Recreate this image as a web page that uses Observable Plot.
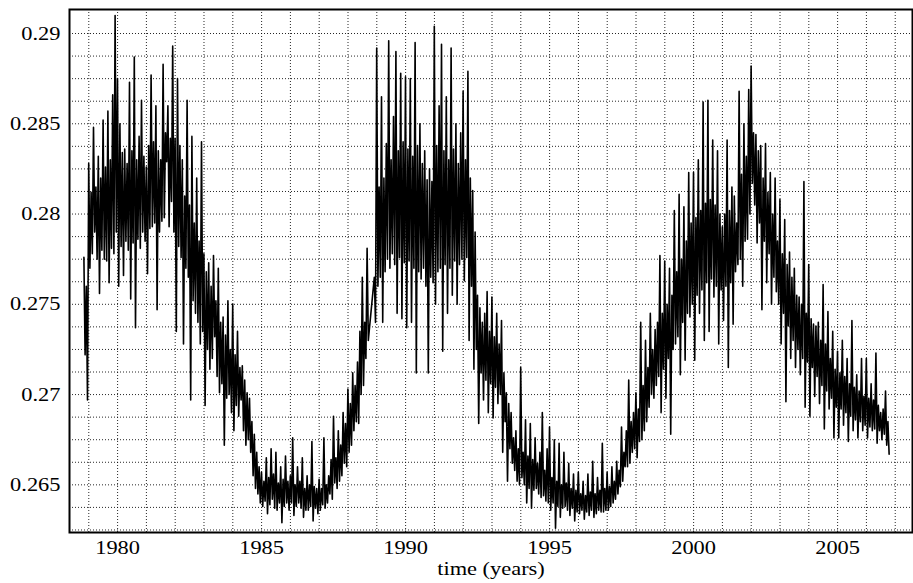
<!DOCTYPE html>
<html>
<head>
<meta charset="utf-8">
<script src="https://cdn.jsdelivr.net/npm/d3@7"></script>
<script src="https://cdn.jsdelivr.net/npm/@observablehq/plot@0.6"></script>
<style>
  html, body { margin: 0; padding: 0; background: #fff; }
  #chart svg { display: block; }
</style>
</head>
<body>
<div id="chart"></div>
<script>
// Half-monthly samples starting at 1978.83
const startYear = 1978.83;
const stepYears = 1 / 24;

const tsi1978to1984 = [
  0.2776, 0.2722, 0.2760, 0.2697,
  // 1979
  0.2828, 0.2770, 0.2812, 0.2778, 0.2848, 0.2790, 0.2815, 0.2775, 0.2832, 0.2756, 0.2820, 0.2780,
  0.2852, 0.2775, 0.2826, 0.2774, 0.2857, 0.2762, 0.2830, 0.2781, 0.2866, 0.2778, 0.2910, 0.2790,
  // 1980
  0.2875, 0.2760, 0.2850, 0.2782, 0.2834, 0.2766, 0.2836, 0.2785, 0.2828, 0.2780, 0.2873, 0.2753,
  0.2835, 0.2784, 0.2887, 0.2737, 0.2830, 0.2786, 0.2843, 0.2781, 0.2863, 0.2790, 0.2832, 0.2785,
  // 1981
  0.2826, 0.2767, 0.2838, 0.2792, 0.2877, 0.2793, 0.2840, 0.2795, 0.2860, 0.2747, 0.2835, 0.2790,
  0.2830, 0.2796, 0.2883, 0.2798, 0.2845, 0.2829, 0.2860, 0.2793, 0.2842, 0.2807, 0.2893, 0.2790,
  // 1982
  0.2842, 0.2735, 0.2875, 0.2782, 0.2838, 0.2776, 0.2830, 0.2728, 0.2810, 0.2770, 0.2863, 0.2765,
  0.2805, 0.2697, 0.2843, 0.2752, 0.2795, 0.2745, 0.2820, 0.2740, 0.2785, 0.2728, 0.2840, 0.2735,
  // 1983
  0.2778, 0.2694, 0.2768, 0.2725, 0.2773, 0.2714, 0.2760, 0.2720, 0.2777, 0.2732, 0.2752, 0.2710,
  0.2770, 0.2701, 0.2740, 0.2706, 0.2743, 0.2672, 0.2733, 0.2698, 0.2752, 0.2700, 0.2725, 0.2690,
  // 1984
  0.2750, 0.2680, 0.2722, 0.2694, 0.2735, 0.2688, 0.2715, 0.2697, 0.2716, 0.2680, 0.2708, 0.2672,
  0.2701, 0.2675, 0.2698, 0.2668, 0.2685, 0.2655, 0.2678, 0.2648, 0.2668, 0.2645, 0.2660, 0.2640
];
const tsi1985to1991 = [
  // 1985
  0.2657, 0.2638, 0.2652, 0.2641, 0.2665, 0.2634, 0.2654, 0.2639, 0.2670, 0.2642, 0.2656, 0.2637,
  0.2668, 0.2636, 0.2651, 0.2640, 0.2660, 0.2629, 0.2653, 0.2638, 0.2666, 0.2640, 0.2652, 0.2636,
  // 1986
  0.2655, 0.2640, 0.2676, 0.2633, 0.2650, 0.2638, 0.2660, 0.2640, 0.2652, 0.2637, 0.2665, 0.2632,
  0.2648, 0.2636, 0.2655, 0.2636, 0.2650, 0.2638, 0.2674, 0.2630, 0.2649, 0.2637, 0.2648, 0.2634,
  // 1987
  0.2653, 0.2636, 0.2648, 0.2639, 0.2676, 0.2637, 0.2650, 0.2640, 0.2655, 0.2645, 0.2664, 0.2642,
  0.2688, 0.2651, 0.2665, 0.2648, 0.2680, 0.2652, 0.2672, 0.2655, 0.2690, 0.2662, 0.2684, 0.2660,
  // 1988
  0.2703, 0.2668, 0.2695, 0.2672, 0.2712, 0.2680, 0.2705, 0.2685, 0.2718, 0.2684, 0.2735, 0.2700,
  0.2765, 0.2705, 0.2740, 0.2720, 0.2781, 0.2730, 0.2737, 0.2744, 0.2751, 0.2758, 0.2765, 0.2740,
  // 1989
  0.2892, 0.2760, 0.2815, 0.2765, 0.2865, 0.2740, 0.2820, 0.2768, 0.2839, 0.2775, 0.2896, 0.2770,
  0.2830, 0.2778, 0.2854, 0.2772, 0.2890, 0.2745, 0.2835, 0.2776, 0.2878, 0.2742, 0.2840, 0.2773,
  // 1990
  0.2876, 0.2737, 0.2836, 0.2774, 0.2875, 0.2740, 0.2832, 0.2770, 0.2895, 0.2712, 0.2838, 0.2768,
  0.2850, 0.2764, 0.2828, 0.2770, 0.2835, 0.2760, 0.2819, 0.2712, 0.2825, 0.2765, 0.2818, 0.2762,
  // 1991
  0.2904, 0.2750, 0.2838, 0.2768, 0.2860, 0.2770, 0.2894, 0.2724, 0.2835, 0.2772, 0.2865, 0.2745,
  0.2830, 0.2770, 0.2892, 0.2755, 0.2836, 0.2774, 0.2850, 0.2750, 0.2828, 0.2772, 0.2845, 0.2775
];
const tsi1992to1998 = [
  // 1992
  0.2868, 0.2763, 0.2830, 0.2776, 0.2879, 0.2730, 0.2820, 0.2760, 0.2813, 0.2714, 0.2790, 0.2725,
  0.2755, 0.2684, 0.2748, 0.2712, 0.2740, 0.2697, 0.2745, 0.2708, 0.2757, 0.2690, 0.2735, 0.2706,
  // 1993
  0.2754, 0.2687, 0.2732, 0.2704, 0.2745, 0.2695, 0.2728, 0.2700, 0.2741, 0.2668, 0.2712, 0.2685,
  0.2701, 0.2652, 0.2695, 0.2670, 0.2690, 0.2662, 0.2676, 0.2658, 0.2680, 0.2652, 0.2670, 0.2650,
  // 1994
  0.2715, 0.2654, 0.2668, 0.2650, 0.2686, 0.2640, 0.2666, 0.2648, 0.2684, 0.2637, 0.2664, 0.2647,
  0.2676, 0.2648, 0.2662, 0.2645, 0.2668, 0.2643, 0.2690, 0.2644, 0.2658, 0.2641, 0.2670, 0.2640,
  // 1995
  0.2682, 0.2636, 0.2654, 0.2640, 0.2675, 0.2626, 0.2652, 0.2638, 0.2673, 0.2632, 0.2650, 0.2637,
  0.2668, 0.2638, 0.2651, 0.2636, 0.2662, 0.2633, 0.2648, 0.2637, 0.2656, 0.2630, 0.2647, 0.2635,
  // 1996
  0.2657, 0.2634, 0.2645, 0.2636, 0.2652, 0.2631, 0.2644, 0.2635, 0.2656, 0.2633, 0.2646, 0.2636,
  0.2663, 0.2632, 0.2645, 0.2634, 0.2654, 0.2636, 0.2647, 0.2635, 0.2673, 0.2635, 0.2648, 0.2636,
  // 1997
  0.2657, 0.2636, 0.2649, 0.2638, 0.2660, 0.2640, 0.2652, 0.2642, 0.2663, 0.2645, 0.2658, 0.2649,
  0.2682, 0.2652, 0.2668, 0.2660, 0.2680, 0.2660, 0.2708, 0.2662, 0.2685, 0.2668, 0.2690, 0.2670,
  // 1998
  0.2701, 0.2665, 0.2692, 0.2674, 0.2740, 0.2675, 0.2705, 0.2680, 0.2730, 0.2685, 0.2715, 0.2693,
  0.2745, 0.2700, 0.2725, 0.2698, 0.2736, 0.2705, 0.2740, 0.2710, 0.2777, 0.2690, 0.2745, 0.2714
];
const tsi1999to2006 = [
  // 1999
  0.2774, 0.2698, 0.2750, 0.2720, 0.2770, 0.2678, 0.2755, 0.2725, 0.2802, 0.2728, 0.2768, 0.2732,
  0.2811, 0.2711, 0.2775, 0.2740, 0.2804, 0.2719, 0.2785, 0.2745, 0.2823, 0.2743, 0.2795, 0.2750,
  // 2000
  0.2823, 0.2719, 0.2798, 0.2755, 0.2830, 0.2745, 0.2802, 0.2758, 0.2862, 0.2730, 0.2806, 0.2762,
  0.2863, 0.2735, 0.2808, 0.2764, 0.2841, 0.2754, 0.2805, 0.2760, 0.2835, 0.2728, 0.2800, 0.2758,
  // 2001
  0.2793, 0.2741, 0.2800, 0.2760, 0.2841, 0.2715, 0.2802, 0.2762, 0.2815, 0.2739, 0.2810, 0.2768,
  0.2795, 0.2772, 0.2868, 0.2775, 0.2822, 0.2760, 0.2850, 0.2785, 0.2832, 0.2786, 0.2869, 0.2800,
  // 2002
  0.2882, 0.2817, 0.2845, 0.2805, 0.2844, 0.2784, 0.2835, 0.2795, 0.2838, 0.2747, 0.2820, 0.2785,
  0.2839, 0.2762, 0.2812, 0.2778, 0.2823, 0.2750, 0.2800, 0.2765, 0.2820, 0.2757, 0.2785, 0.2750,
  // 2003
  0.2808, 0.2728, 0.2778, 0.2745, 0.2797, 0.2696, 0.2772, 0.2738, 0.2779, 0.2720, 0.2765, 0.2730,
  0.2770, 0.2715, 0.2755, 0.2725, 0.2754, 0.2711, 0.2750, 0.2720, 0.2818, 0.2693, 0.2745, 0.2718,
  // 2004
  0.2772, 0.2688, 0.2742, 0.2715, 0.2739, 0.2699, 0.2738, 0.2710, 0.2740, 0.2695, 0.2730, 0.2705,
  0.2761, 0.2681, 0.2728, 0.2702, 0.2746, 0.2692, 0.2720, 0.2698, 0.2735, 0.2676, 0.2714, 0.2693,
  // 2005
  0.2724, 0.2676, 0.2712, 0.2692, 0.2730, 0.2683, 0.2710, 0.2690, 0.2720, 0.2674, 0.2706, 0.2688,
  0.2741, 0.2680, 0.2704, 0.2686, 0.2711, 0.2676, 0.2702, 0.2685, 0.2720, 0.2680, 0.2699, 0.2683,
  // 2006
  0.2720, 0.2676, 0.2698, 0.2682, 0.2706, 0.2680, 0.2697, 0.2681, 0.2723, 0.2673, 0.2694, 0.2680,
  0.2690, 0.2675, 0.2692, 0.2678, 0.2702, 0.2672, 0.2685, 0.2667
];

const xTicks = [1980, 1985, 1990, 1995, 2000, 2005];
const yTicks = [0.265, 0.27, 0.275, 0.28, 0.285, 0.29];
const xLabel = "time (years)";

const values = [...tsi1978to1984, ...tsi1985to1991, ...tsi1992to1998, ...tsi1999to2006];
const data = values.map((v, i) => ({t: startYear + i * stepYears, v}));

const xGrid = d3.range(1979, 2008, 1);
const yGrid = d3.range(0, 23).map(k => +(0.2625 + k * 0.00125).toFixed(5));

const font = "'Liberation Serif', 'Times New Roman', serif";

const chart = Plot.plot({
  width: 913,
  height: 583,
  marginLeft: 69,
  marginRight: 1,
  marginTop: 9,
  marginBottom: 51,
  style: {fontFamily: font, fontSize: "19px", color: "#000", background: "#fff", overflow: "visible"},
  x: {domain: [1978.33, 2007.6]},
  y: {domain: [0.26236, 0.29133]},
  marks: [
    Plot.ruleX(xGrid, {stroke: "#000", strokeWidth: 1, strokeDasharray: "1,2", strokeOpacity: 0.85}),
    Plot.ruleY(yGrid, {stroke: "#000", strokeWidth: 1, strokeDasharray: "1,2", strokeOpacity: 0.85}),
    Plot.lineY(data, {x: "t", y: "v", stroke: "#000", strokeWidth: 1.6}),
    Plot.axisX(xTicks, {tickSize: 0, tickPadding: 8, label: null, fontSize: 19, tickFormat: d => String(d)}),
    Plot.axisY(yTicks, {tickSize: 0, tickPadding: 9, label: null, fontSize: 19, tickFormat: d => String(d)}),
    Plot.text([xLabel], {frameAnchor: "bottom", dy: 42, fontSize: 19, fill: "#000"}),
    Plot.frame({stroke: "#000", strokeWidth: 2})
  ]
});

document.getElementById("chart").appendChild(chart);

// The reference typography is horizontally stretched; widen text about its anchor.
chart.querySelectorAll("text").forEach(el => {
  const bb = el.getBBox();
  const anchor = getComputedStyle(el).textAnchor;
  let ax = bb.x + bb.width / 2;
  if (anchor === "end") ax = bb.x + bb.width;
  else if (anchor === "start") ax = bb.x;
  const prev = el.getAttribute("transform") || "";
  el.setAttribute("transform", `${prev} translate(${ax},0) scale(1.18,1) translate(${-ax},0)`.trim());
});
</script>
</body>
</html>
